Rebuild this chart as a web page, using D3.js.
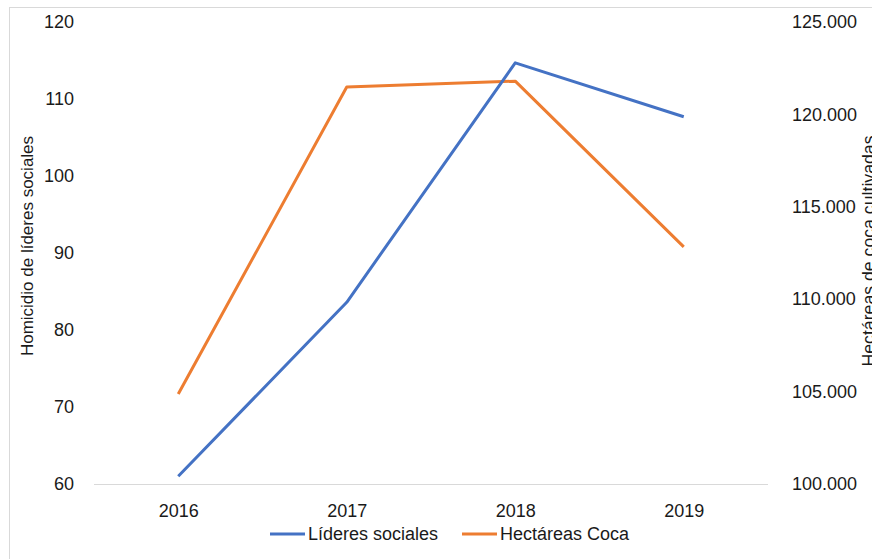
<!DOCTYPE html>
<html>
<head>
<meta charset="utf-8">
<script src="https://cdn.jsdelivr.net/npm/d3@7/dist/d3.min.js"></script>
<style>
  html, body { margin: 0; padding: 0; background: #fff; }
  svg { display: block; font-family: "Liberation Sans", Arial, sans-serif; }
</style>
</head>
<body>
<div id="chart"></div>
<script>
const years = ["2016", "2017", "2018", "2019"];
const lideres = [61, 83.6, 114.7, 107.7];
const hectareas = [104870, 121480, 121800, 112830];
const leftTicks = [60, 70, 80, 90, 100, 110, 120];
const rightTicks = [100000, 105000, 110000, 115000, 120000, 125000];

const width = 872;
const height = 559;
const margin = { top: 22, right: 104, bottom: 75, left: 94 };

const blue = "#4472c4";
const orange = "#ed7d31";

const svg = d3.select("#chart")
  .append("svg")
  .attr("width", width)
  .attr("height", height);

// chart frame (right and bottom edges fall outside the picture)
svg.append("rect")
  .attr("x", 9.5)
  .attr("y", 7.5)
  .attr("width", width + 20)
  .attr("height", height + 20)
  .attr("fill", "none")
  .attr("stroke", "#d9d9d9")
  .attr("stroke-width", 1);

const x = d3.scalePoint()
  .domain(years)
  .range([margin.left, width - margin.right])
  .padding(0.5);

const yLeft = d3.scaleLinear().domain([60, 120]).range([height - margin.bottom, margin.top]);
const yRight = d3.scaleLinear().domain([100000, 125000]).range([height - margin.bottom, margin.top]);

const fmtThousands = d3.formatLocale({ decimal: ",", thousands: ".", grouping: [3], currency: ["", ""] }).format(",.0f");

// baseline
svg.append("line")
  .attr("x1", margin.left)
  .attr("x2", width - margin.right)
  .attr("y1", yLeft(60) + 0.5)
  .attr("y2", yLeft(60) + 0.5)
  .attr("stroke", "#d9d9d9")
  .attr("stroke-width", 1);

const leftAxis = svg.append("g")
  .attr("transform", `translate(${margin.left - 20}, 0)`)
  .call(d3.axisLeft(yLeft).tickValues(leftTicks).tickSize(0).tickPadding(0));
leftAxis.select(".domain").remove();
leftAxis.selectAll("text")
  .attr("font-size", 18)
  .attr("font-family", "Liberation Sans, Arial, sans-serif")
  .attr("fill", "#1a1a1a");

const rightAxis = svg.append("g")
  .attr("transform", `translate(${width - 80}, 0)`)
  .call(d3.axisRight(yRight).tickValues(rightTicks).tickFormat(fmtThousands).tickSize(0).tickPadding(0));
rightAxis.select(".domain").remove();
rightAxis.selectAll("text")
  .attr("font-size", 18)
  .attr("font-family", "Liberation Sans, Arial, sans-serif")
  .attr("fill", "#1a1a1a");

const bottomAxis = svg.append("g")
  .attr("transform", `translate(0, ${height - margin.bottom})`)
  .call(d3.axisBottom(x).tickSize(0).tickPadding(20));
bottomAxis.select(".domain").remove();
bottomAxis.selectAll("text")
  .attr("font-size", 18)
  .attr("font-family", "Liberation Sans, Arial, sans-serif")
  .attr("fill", "#1a1a1a");

// axis titles
svg.append("text")
  .attr("transform", "translate(33, 246) rotate(-90)")
  .attr("text-anchor", "middle")
  .attr("font-size", 17)
  .attr("fill", "#1a1a1a")
  .text("Homicidio de líderes sociales");

svg.append("text")
  .attr("transform", "translate(875, 251) rotate(-90)")
  .attr("text-anchor", "middle")
  .attr("font-size", 17.7)
  .attr("fill", "#1a1a1a")
  .text("Hectáreas de coca cultivadas");

const lineLeft = d3.line()
  .x((d, i) => x(years[i]))
  .y((d) => yLeft(d));

const lineRight = d3.line()
  .x((d, i) => x(years[i]))
  .y((d) => yRight(d));

svg.append("path")
  .datum(hectareas)
  .attr("fill", "none")
  .attr("stroke", orange)
  .attr("stroke-width", 3)
  .attr("stroke-linejoin", "round")
  .attr("d", lineRight);

svg.append("path")
  .datum(lideres)
  .attr("fill", "none")
  .attr("stroke", blue)
  .attr("stroke-width", 3)
  .attr("stroke-linejoin", "round")
  .attr("d", lineLeft);

// legend
const legendItems = [
  { label: "Líderes sociales", color: blue, x: 270 },
  { label: "Hectáreas Coca", color: orange, x: 462 },
];
const legend = svg.append("g").attr("transform", "translate(0, 534)");
legendItems.forEach((item) => {
  legend.append("line")
    .attr("x1", item.x)
    .attr("x2", item.x + 35)
    .attr("y1", 0)
    .attr("y2", 0)
    .attr("stroke", item.color)
    .attr("stroke-width", 3);
  legend.append("text")
    .attr("x", item.x + 38)
    .attr("y", 0)
    .attr("dy", "0.35em")
    .attr("font-size", 18)
    .attr("fill", "#1a1a1a")
    .text(item.label);
});
</script>
</body>
</html>
